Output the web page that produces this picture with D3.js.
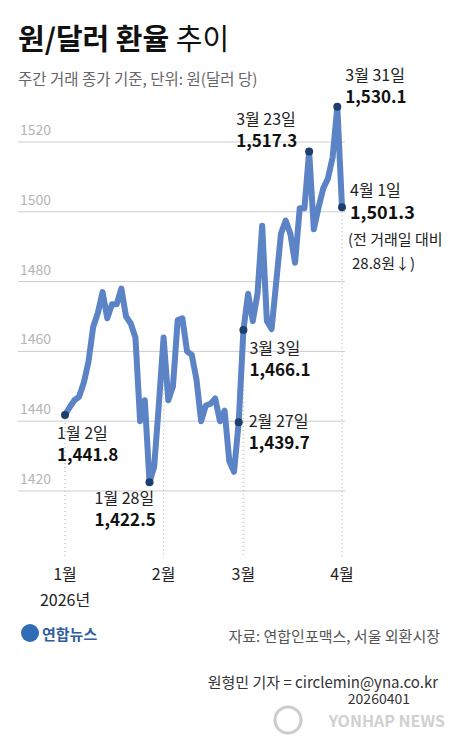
<!DOCTYPE html>
<html><head><meta charset="utf-8">
<script src="https://cdn.jsdelivr.net/npm/d3@7"></script>
<style>body{margin:0;background:#fff}text{font-family:"Noto Sans CJK KR","Noto Sans",sans-serif}</style>
</head><body><svg id="c" width="456" height="750"></svg>
<script>
const values=[1441.8,1444,1446,1447,1451,1457,1467,1471,1477,1469.5,1473.5,1473.5,1478,1470,1468,1464,1440,1446,1422.5,1427,1445,
1464,1446,1450,1469,1469.5,1460,1459,1452,1440,1444.5,1445,1446.5,1440,1443,1428.5,1425.5,1439.7,
1466.1,1476.5,1468.7,1476.5,1496,1468.7,1466.4,1480,1493.7,1497.5,1493.7,1485.4,1501,1501,1517.3,1495,1501.2,1506.7,1509.5,1515.6,1530.1,1501.3];
const yTicks=[1420,1440,1460,1480,1500,1520];
const monthTicks=[{i:0,label:"1월"},{i:21,label:"2월"},{i:38,label:"3월"},{i:59,label:"4월"}];
const notes=[
 {i:0,date:"1월 2일",val:"1,441.8",dx:-8,dy:24},
 {i:18,date:"1월 28일",val:"1,422.5",dx:-55,dy:22},
 {i:37,date:"2월 27일",val:"1,439.7",dx:10,dy:5},
 {i:38,date:"3월 3일",val:"1,466.1",dx:6,dy:24},
 {i:52,date:"3월 23일",val:"1,517.3",dx:-73,dy:-26},
 {i:58,date:"3월 31일",val:"1,530.1",dx:8,dy:-26}
];
const svg=d3.select("#c");
const x=d3.scaleLinear().domain([0,59]).range([65,342]);
const y=d3.scaleLinear().domain([1420,1520]).range([491,142]);

const t=svg.append("text").attr("x",18).attr("y",50).attr("font-size",29).attr("fill","#111");
t.append("tspan").attr("font-weight",700).text("원/달러 환율 ");
t.append("tspan").attr("font-weight",400).text("추이");
svg.append("text").attr("x",18).attr("y",85).attr("font-size",15.5).attr("fill","#666").text("주간 거래 종가 기준, 단위: 원(달러 당)");

// gridlines
yTicks.forEach(v=>{
  svg.append("line").attr("x1",18).attr("x2",345).attr("y1",y(v)).attr("y2",y(v)).attr("stroke","#ccc").attr("stroke-width",1);
  svg.append("text").attr("x",20).attr("y",y(v)-7).attr("font-size",14).attr("fill","#b5b5b5").text(v);
});
// month dotted lines
monthTicks.forEach(m=>{
  svg.append("line").attr("x1",x(m.i)).attr("x2",x(m.i)).attr("y1",y(values[m.i])).attr("y2",558)
   .attr("stroke","#bbb").attr("stroke-dasharray","1,3").attr("stroke-width",1.2);
  svg.append("text").attr("x",x(m.i)).attr("y",580).attr("text-anchor","middle").attr("font-size",16).attr("fill","#222").text(m.label);
});
svg.append("text").attr("x",x(0)).attr("y",606).attr("text-anchor","middle").attr("font-size",16).attr("fill","#222").text("2026년");

svg.append("path").datum(values).attr("fill","none").attr("stroke","#5b83c5").attr("stroke-width",6).attr("stroke-linejoin","round")
  .attr("d",d3.line().x((d,i)=>x(i)).y(d=>y(d)));

const pts=notes.map(n=>n.i).concat([59]);
svg.selectAll("circle").data(pts).join("circle").attr("cx",i=>x(i)).attr("cy",i=>y(values[i])).attr("r",4).attr("fill","#1d3f6e");

notes.forEach(n=>{
  const px=x(n.i)+n.dx, py=y(values[n.i])+n.dy;
  svg.append("text").attr("x",px).attr("y",py).attr("font-size",16).attr("fill","#222").text(n.date);
  svg.append("text").attr("x",px).attr("y",py+22).attr("font-size",17).attr("font-weight",700).attr("fill","#111").text(n.val);
});
// Apr 1 note
const ax=x(59)+8, ay=y(values[59]);
svg.append("text").attr("x",ax).attr("y",ay-11).attr("font-size",16).attr("fill","#222").text("4월 1일");
svg.append("text").attr("x",ax).attr("y",ay+12).attr("font-size",18).attr("font-weight",700).attr("fill","#111").text("1,501.3");
svg.append("text").attr("x",ax-2).attr("y",ay+38).attr("font-size",15).attr("fill","#222").text("(전 거래일 대비");
svg.append("text").attr("x",ax+2).attr("y",ay+62).attr("font-size",15).attr("fill","#222").text("28.8원↓)");

// footer
svg.append("circle").attr("cx",30).attr("cy",633).attr("r",9).attr("fill","#2f6db5");
svg.append("text").attr("x",42).attr("y",640).attr("font-size",15).attr("font-weight",700).attr("fill","#2f5e9e").text("연합뉴스");
svg.append("text").attr("x",440).attr("y",642).attr("text-anchor","end").attr("font-size",15).attr("fill","#555").text("자료: 연합인포맥스, 서울 외환시장");
svg.append("text").attr("x",438).attr("y",688).attr("text-anchor","end").attr("font-size",15).attr("fill","#333").text("원형민 기자 = circlemin@yna.co.kr");
svg.append("text").attr("x",410).attr("y",704).attr("text-anchor","end").attr("font-size",14).attr("fill","#333").text("20260401");
svg.append("circle").attr("cx",288).attr("cy",720).attr("r",13).attr("fill","none").attr("stroke","#ccc").attr("stroke-width",3);
svg.append("text").attr("x",445).attr("y",727).attr("text-anchor","end").attr("font-size",16).attr("font-weight",700).attr("fill","#d0d0d0").text("YONHAP NEWS");
</script></body></html>
